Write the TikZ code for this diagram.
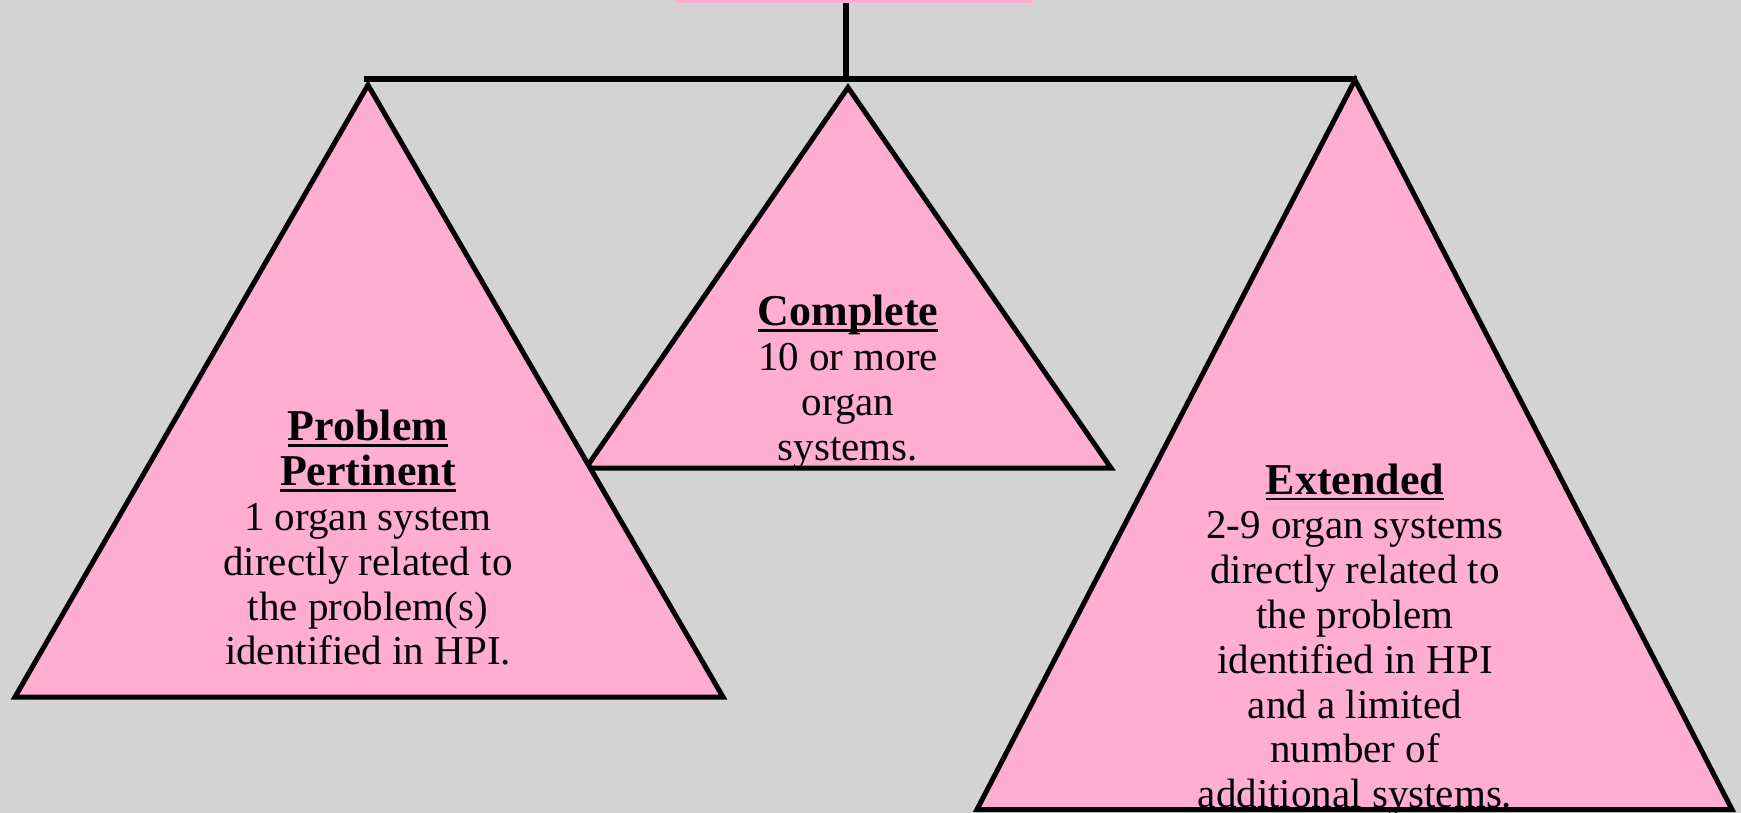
\documentclass[tikz,border=0pt]{standalone}
\usepackage{fontspec}
\setmainfont{Liberation Serif}
\usetikzlibrary{positioning}
\definecolor{bggray}{RGB}{211,211,211}
\definecolor{pyrpink}{RGB}{255,174,210}
\definecolor{boxwhite}{RGB}{255,240,245}
% bold title with a rule under it
\newcommand{\pyrhead}[1]{\setbox0\hbox{\fontsize{44}{44.8}\selectfont\bfseries #1}\rlap{\rule[-6pt]{\wd0}{2.5pt}}\box0}
\tikzset{
    line/.style={draw, line width=5.5pt},
    pyramid/.style={
        fill=pyrpink,
        draw=black, line width=5pt,
        line join=miter
    },
    pyrtext/.style={
        align=center,
        font=\fontsize{41}{44.8}\selectfont,
        inner sep=0pt
    },
    headbox/.style={
        rectangle,
        draw=pyrpink, line width=6pt,
        fill=boxwhite,
        minimum width=352pt,
        minimum height=40pt
    }
}

\begin{document}
\begin{tikzpicture}[x=1pt,y=-1pt]
\fill[bggray] (0,0) rectangle (1741,813);
\useasboundingbox (0,0) rectangle (1741,813);

\node[headbox, anchor=south] (head) at (854,3) {};

% apexes of the three pyramids
\coordinate (lefttop) at (368,85);
\coordinate (midtop) at (848,87.5);
\coordinate (righttop) at (1355,80);
\coordinate (hub) at (846,79);

\draw[line] (hub |- head.south) -- (hub);
\draw[line] ([xshift=-4pt]lefttop |- hub) -- ([xshift=2pt]righttop |- hub);

\draw[pyramid] (midtop) -- (586,468) -- (1111,468) -- cycle;
\draw[pyramid] (lefttop) -- (15,697) -- (723,697) -- cycle;
\draw[pyramid] (righttop) -- (977,809.5) -- (1732,809.5) -- cycle;

\node[pyrtext] (pertinent) at (368,538) {\pyrhead{Problem}\\\pyrhead{Pertinent}\\1 organ system\\directly related to\\the problem(s)\\identified in HPI.};
\node[pyrtext] (complete) at (848,382) {\pyrhead{Complete}\\10 or more\\organ\\systems.};
\node[pyrtext] (extended) at (1355,640) {\pyrhead{Extended}\\2-9 organ systems\\directly related to\\the problem\\identified in HPI\\and a limited\\number of\\additional systems.};
\end{tikzpicture}
\end{document}
